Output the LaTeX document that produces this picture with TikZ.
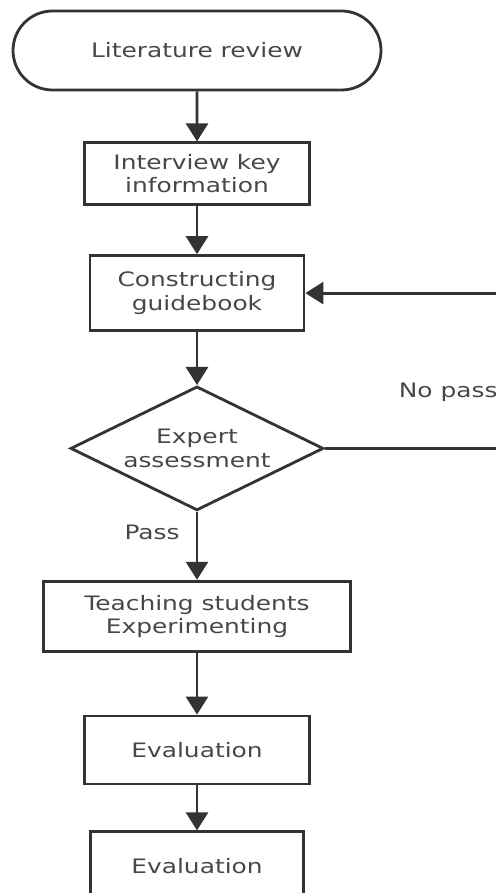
\documentclass[tikz,border=0pt]{standalone}
\usepackage{fontspec}
\setmainfont{DejaVu Sans}[FakeStretch=1.25]
\usetikzlibrary{positioning,shapes.geometric,shapes.misc,arrows.meta}

\begin{document}
\begin{tikzpicture}[x=0.5pt, y=-0.5pt, line width=1.4pt, color=black!80,
  base/.style = {draw, text=black!72, font=\fontsize{9.95}{11.6}\selectfont, align=center, inner sep=0pt},
  term/.style = {base, rounded rectangle, minimum width=184pt, minimum height=39.5pt},
  proc/.style = {base, rectangle},
  decide/.style = {base, diamond, aspect=2, minimum width=126.5pt, minimum height=62pt},
  lbl/.style = {text=black!72, font=\fontsize{9.95}{11.6}\selectfont, inner sep=0pt},
  flow/.style = {-{Triangle[width=11pt,length=9pt]}}]
\useasboundingbox (0,0) rectangle (496,893);
\node[term] (lit) at (197,50.5) {Literature review};
\node[proc, minimum width=112.5pt, minimum height=31pt] (intv) [below=25pt of lit] {Interview key\\information};
\node[proc, minimum width=107pt, minimum height=37.5pt] (cons) [below=24pt of intv] {Constructing\\guidebook};
\node[decide] (expert) [below=26.5pt of cons] {Expert\\assessment};
\node[proc, minimum width=153.5pt, minimum height=35pt] (teach) [below=34pt of expert] {Teaching students\\Experimenting};
\node[proc, minimum width=112.5pt, minimum height=34pt] (eval1) [below=31pt of teach] {Evaluation};
\node[proc, minimum width=106.5pt, minimum height=34pt] (eval2) [below=22.5pt of eval1] {Evaluation};

\draw[flow] (lit) -- (intv);
\draw[flow] (intv) -- (cons);
\draw[flow] (cons) -- (expert);
\draw[flow] (expert) -- node[lbl, pos=0.3, left=8pt] {Pass} (teach);
\draw[flow] (teach) -- (eval1);
\draw[flow] (eval1) -- (eval2);
% back to the guidebook when the assessment fails
\draw[flow] (expert.east) -- ++(93pt,0) coordinate (back) |- node[lbl, pos=0.18, left=6pt] {No pass} (cons.east);
\end{tikzpicture}
\end{document}
